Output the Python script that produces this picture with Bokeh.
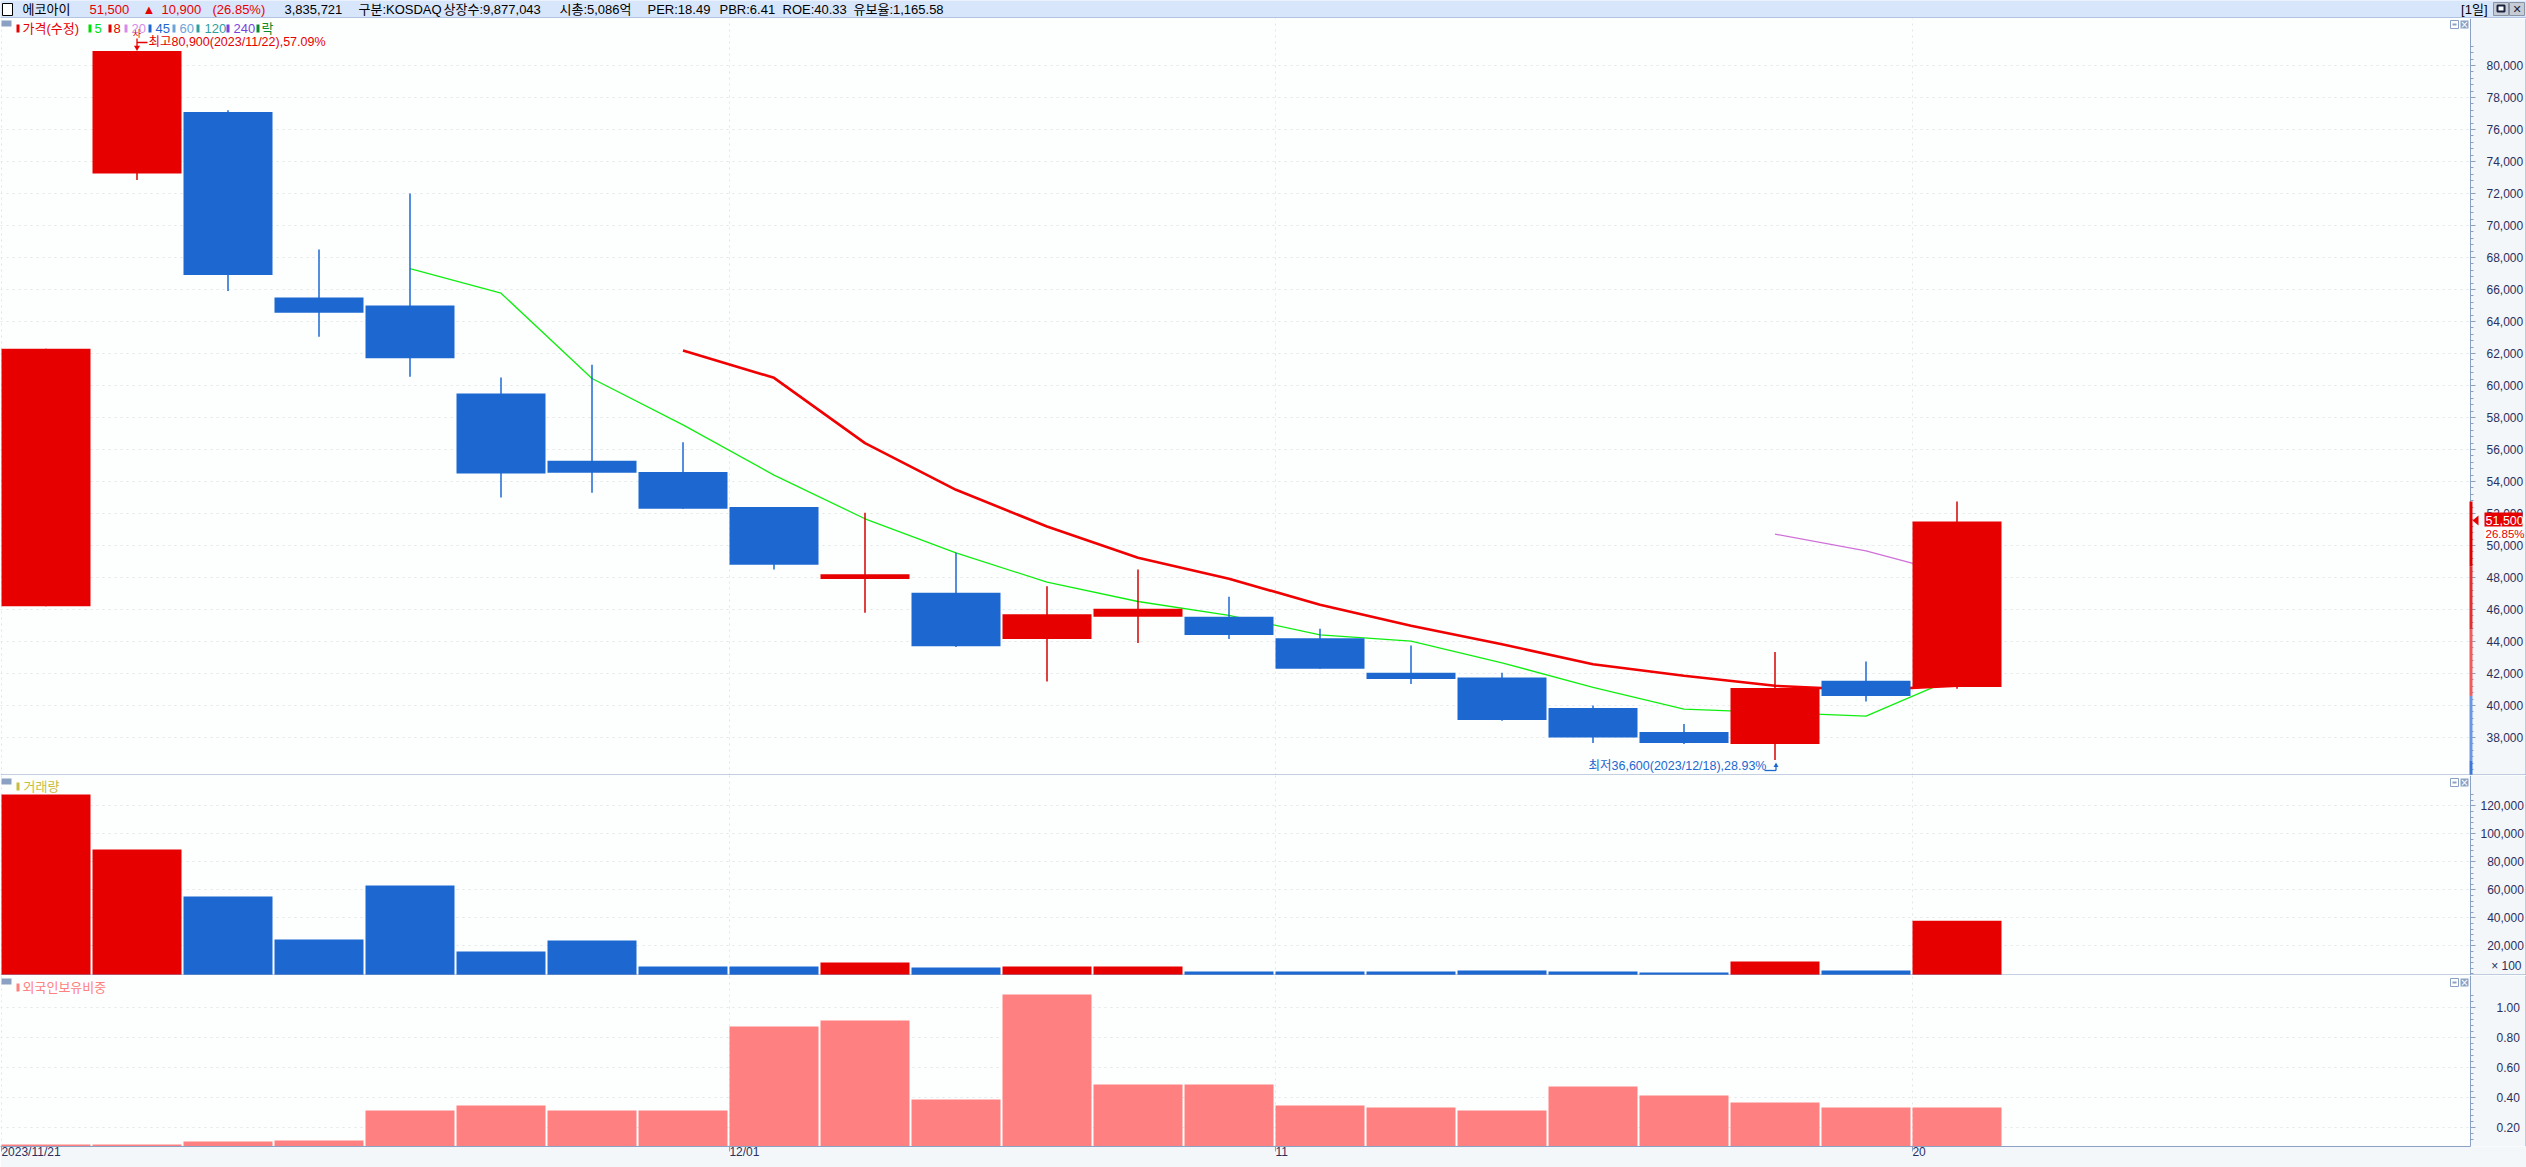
from bokeh.plotting import figure
from bokeh.layouts import column
from bokeh.embed import file_html
from bokeh.resources import INLINE
from bokeh.core.properties import value
from bokeh.models import (Range1d, LinearAxis, FixedTicker, NumeralTickFormatter, Label,
                          BoxAnnotation, PolyAnnotation, ColumnDataSource)

# ---------- data ----------
opens  = [46200, 73250, 77100, 65500, 65000, 59500, 55300, 54600, 52400, 47900, 47050, 44150, 45550,
          45550, 44200, 42050, 41750, 39850, 38350, 37600, 41550, 41150]
highs  = [62300, 80900, 77200, 68500, 72000, 60500, 61300, 56450, 52400, 52050, 49550, 47450, 48500,
          46800, 44800, 43750, 42050, 40000, 38850, 43350, 42750, 52750]
lows   = [46200, 72850, 65900, 63050, 60550, 53000, 53300, 52300, 48500, 45800, 43650, 41500, 43900,
          44150, 42300, 41350, 39050, 37650, 37600, 36600, 40250, 41050]
closes = [62300, 80900, 66900, 64550, 61700, 54500, 54550, 52300, 48800, 48200, 43700, 45700, 46050,
          44400, 42300, 41650, 39100, 38000, 37650, 41100, 40600, 51500]
ma5_x  = list(range(4, 22))
ma5    = [67300, 65770, 60440, 57540, 54400, 51670, 49540, 47710, 46500, 45630, 44420, 44020, 42670,
          41130, 39770, 39560, 39330, 41770]
ma8_x  = list(range(7, 22))
ma8    = [62190, 60480, 56400, 53480, 51190, 49230, 47920, 46300, 44980, 43830, 42580, 41860, 41230,
          40960, 41230]
ma20_x = [19, 20, 21]
ma20   = [50710, 49670, 48150]
volume = [128100, 88800, 55200, 24500, 63100, 15950, 23800, 5240, 5240, 8100, 4520, 5240, 5240, 1670,
          1670, 1670, 2380, 1670, 950, 8810, 2380, 38000]
foreign = [0.087, 0.087, 0.107, 0.113, 0.313, 0.347, 0.313, 0.313, 0.873, 0.913, 0.387, 1.087, 0.487,
           0.487, 0.347, 0.333, 0.313, 0.473, 0.413, 0.367, 0.333, 0.333]
price_ticks = [38000 + 2000 * i for i in range(22)]
vol_ticks = [20000, 40000, 60000, 80000, 100000, 120000]
for_ticks = [0.2, 0.4, 0.6, 0.8, 1.0]
date_ticks = {0: "2023/11/21", 8: "12/01", 14: "11", 21: "20"}
legend_items = ["가격(수정)", "5", "8", "20", "45", "60", "120", "240", "락"]
legend_colors = ["#e60000", "#00e000", "#e60000", "#d78ae6", "#1c68d0", "#6fa3d8", "#2f9e9e", "#7c3fe0", "#0a8a2a"]
header_items = ["에코아이", "51,500", "▲", "10,900", "(26.85%)", "3,835,721", "구분:KOSDAQ", "상장수:9,877,043",
                "시총:5,086억", "PER:18.49", "PBR:6.41", "ROE:40.33", "유보율:1,165.58"]
profile_edges = [52750, 48700, 44750, 40600, 36550, 35625]
profile_colors = ["#e00000", "#e23030", "#ee5c5c", "#6a98e0", "#3d78d8"]

# ---------- style ----------
W, H = 2526, 1167
FW = 2470
AXBG, PANE, LINE, TXT = "#f3f7f9", "#fcfffe", "#8ba1c4", "#2b2f5e"
RED, BLUE, PINK = "#e60000", "#1c68d0", "#ff8080"
GRID = "#e2e6ea"
NARROW = "'Liberation Sans', 'Noto Sans CJK KR'"
x_left, x_right = -45.5 / 91, (W - 45.5) / 91
def X(px): return (px - 45.5) / 91

def pane(top, bottom, ymin, ymax, total_h, ticks, minor, fmt=None, standoff=11, overrides=None):
    p = figure(width=W, height=total_h, frame_width=W, frame_height=bottom - top, frame_align=False,
               output_backend="svg", toolbar_location=None,
               x_range=Range1d(x_left, x_right), y_range=Range1d(ymin, ymax),
               x_axis_location=None, y_axis_location="right",
               min_border_left=0, min_border_right=0, min_border_top=0, min_border_bottom=total_h - (bottom - top),
               background_fill_color=PANE, border_fill_color=AXBG, outline_line_color=None)
    ax = p.yaxis[0]
    ax.fixed_location = X(FW)
    ax.ticker = FixedTicker(ticks=ticks, minor_ticks=minor)
    if fmt: ax.formatter = NumeralTickFormatter(format=fmt)
    if overrides: ax.major_label_overrides = overrides
    ax.axis_line_color = LINE
    ax.major_tick_line_color = LINE; ax.minor_tick_line_color = LINE
    ax.major_tick_out = 5; ax.major_tick_in = 0; ax.minor_tick_out = 3; ax.minor_tick_in = 0
    ax.major_label_standoff = standoff
    ax.major_label_text_font = NARROW; ax.major_label_text_font_size = "12px"; ax.major_label_text_color = TXT
    p.ygrid.ticker = FixedTicker(ticks=ticks)
    p.xgrid.ticker = FixedTicker(ticks=[k - 0.49 for k in date_ticks])
    for g in (p.xgrid, p.ygrid):
        g.grid_line_color = GRID; g.grid_line_dash = "2 4"; g.grid_line_width = 1
    p.add_layout(BoxAnnotation(left=X(FW), right=X(W), fill_color=AXBG, fill_alpha=1, line_alpha=0, level="glyph"))
    p._top = top; p._scale = (ymax - ymin) / (bottom - top); p._ymax = ymax
    return p

def Y(p, py): return p._ymax - (py - p._top) * p._scale

def label(p, text, px, py, color=TXT, size=12, align="left", bg=None, font=NARROW):
    p.add_layout(Label(x=X(px), y=Y(p, py), text=text, text_color=color, text_font=font,
                       text_font_size=f"{size}px", text_align=align, text_baseline="middle",
                       background_fill_color=bg, level="overlay"))

def box(p, x0, x1, y0, y1, color, line=None):
    p.add_layout(BoxAnnotation(left=X(x0), right=X(x1), top=Y(p, y0), bottom=Y(p, y1), fill_color=color,
                               fill_alpha=1, line_color=line, line_alpha=1 if line else 0, line_width=1, level="overlay"))

def pane_buttons(p, py):
    box(p, 1, 11, py, py + 6, LINE)
    box(p, 2450, 2458, py, py + 8, "#ffffff", LINE)
    box(p, 2452, 2456, py + 3, py + 5, LINE)
    box(p, 2460, 2468, py, py + 8, LINE)
    label(p, "×", 2464, py + 4, color="#ffffff", size=10, align="center", font="DejaVu Sans")

idx = list(range(22))
up = [c >= o for o, c in zip(opens, closes)]
colors = [RED if u else BLUE for u in up]
wick_colors = ["#d60000" if u else BLUE for u in up]

# ---------- header ----------
hd = figure(width=W, height=18, frame_width=W, frame_height=18, frame_align=False,
            output_backend="svg", toolbar_location=None,
            x_range=Range1d(0, W), y_range=Range1d(18, 0), x_axis_location=None, y_axis_location=None,
            min_border=0, background_fill_color="#d8e6fb", border_fill_color="#d8e6fb", outline_line_color=None)
hd.grid.visible = False
hx = [22, 89, 142, 161, 212, 284, 358, 443, 559, 647, 719, 782, 853]
hc = ["#000000", "#e60000", "#e60000", "#e60000", "#e60000"] + ["#000000"] * 8
hd.text(x=hx, y=[9] * len(hx), text=header_items, text_color=hc, text_baseline="middle",
        text_font=value(NARROW), text_font_size="13px")
hd.text(x=[2487], y=[9], text=["[1일]"], text_color="#000000", text_baseline="middle", text_align="right",
        text_font=value(NARROW), text_font_size="13px")
hd.quad(left=[2, 2493, 2509], right=[12, 2508, 2524], top=[3, 2, 2], bottom=[15, 15, 15],
        fill_color=["#ffffff", "#c6ccd6", "#c6ccd6"], line_color=["#000000", "#8a93a3", "#8a93a3"])
hd.quad(left=[2497], right=[2504], top=[5], bottom=[11], fill_color="#ffffff", line_color="#1a2240", line_width=2)
hd.text(x=[2516.5], y=[9], text=["✕"], text_color="#1a2240", text_align="center", text_baseline="middle",
        text_font=value("DejaVu Sans"), text_font_size="11px")
hd.segment(x0=[0], x1=[W], y0=[17.5], y1=[17.5], line_color=LINE, line_width=1)

# ---------- price ----------
P_MIN, P_MAX = 35625, 82937.5
p1 = pane(18, 775, P_MIN, P_MAX, 757, price_ticks, [36000 + 400 * i for i in range(114)], fmt="0,0", standoff=11)
p1.line(ma5_x, ma5, line_color="#10ee10", line_width=1.3)
p1.line(ma8_x, ma8, line_color="#f00000", line_width=2.6)
p1.line(ma20_x, ma20, line_color="#d070d8", line_width=1.3)
src = ColumnDataSource(dict(x=idx, low=lows, high=highs,
                            top=[max(o, c) for o, c in zip(opens, closes)],
                            bot=[min(o, c) for o, c in zip(opens, closes)], color=colors, wick=wick_colors))
p1.segment("x", "low", "x", "high", source=src, line_color="wick", line_width=1.5)
p1.vbar(x="x", width=89 / 91, top="top", bottom="bot", source=src, fill_color="color", line_color=None)
pane_buttons(p1, 20)
# legend
lg_bar = [16, 88, 108, 124, 148, 172, 196, 226, 256]
lg_txt = [22, 94, 113, 131, 155, 179, 204, 233, 261]
for t, c, bx, tx in zip(legend_items, legend_colors, lg_bar, lg_txt):
    box(p1, bx, bx + 3, 24, 32, c)
    label(p1, t, tx, 28, color=c, size=13)
# extremes
label(p1, "최고80,900(2023/11/22),57.09%", 148, 41.5, color="#e60000", size=12.5)
label(p1, "사", 136.5, 33, color="#e60000", size=9, align="center")
p1.segment([X(136.5), X(136.5)], [Y(p1, 38), Y(p1, 42)], [X(136.5), X(147)], [Y(p1, 48), Y(p1, 42)], line_color="#e60000", line_width=1.3)
p1.scatter([X(136.5)], [Y(p1, 47)], marker="inverted_triangle", size=6, fill_color="#e60000", line_color=None)
label(p1, "최저36,600(2023/12/18),28.93%", 1588, 765.5, color=BLUE, size=12.5)
p1.segment([X(1764), X(1775.5)], [Y(p1, 770), Y(p1, 770)], [X(1775.5), X(1775.5)], [Y(p1, 770), Y(p1, 765)], line_color=BLUE, line_width=1.3)
p1.scatter([X(1775.5)], [Y(p1, 765)], marker="triangle", size=5, fill_color=BLUE, line_color=None)
# current-price profile strip on the axis
for hi, lo, c in zip(profile_edges[:-1], profile_edges[1:], profile_colors):
    p1.add_layout(BoxAnnotation(left=X(2469), right=X(2472), top=hi, bottom=lo, fill_color=c, fill_alpha=1,
                                line_alpha=0, level="overlay"))
p1.add_layout(PolyAnnotation(xs=[X(2472), X(2478), X(2478)], ys=[Y(p1, 520), Y(p1, 515), Y(p1, 525)],
                             fill_color="#e60000", fill_alpha=1, line_alpha=0, level="overlay"))
box(p1, 2484, 2522, 512, 526, "#e60000")
label(p1, "51,500", 2485, 519.5, color="#ffffff", size=12.5)
box(p1, 2484, 2522, 527, 540, "#ffffff")
label(p1, "26.85%", 2485, 533.5, color="#e60000", size=11.5)
box(p1, 0, W, 774, 775, LINE)
box(p1, W - 1, W, 18, 775, LINE)

# ---------- volume ----------
V_MIN, V_MAX = -1190, 141665
vov = {v: "\u2007" + f"{v:,}" for v in vol_ticks if v < 100000}
p2 = pane(775, 975, V_MIN, V_MAX, 200, vol_ticks, [4000 * i for i in range(33)], fmt="0,0", standoff=5, overrides=vov)
p2.vbar(x=idx, width=89 / 91, top=volume, bottom=V_MIN, fill_color=colors, line_color=None)
pane_buttons(p2, 778)
box(p2, 16, 19, 782, 790, "#c9bb3e")
label(p2, "거래량", 23, 786, color="#c9bb3e", size=13)
label(p2, "× 100", 2521, 965, align="right", size=12)
box(p2, 0, W, 974, 975, LINE)
box(p2, W - 1, W, 775, 975, LINE)

# ---------- foreign ownership ----------
F_MIN, F_MAX = 0.0733, 1.2133
p3 = pane(975, 1146, F_MIN, F_MAX, 192, for_ticks, [0.12 + 0.04 * i for i in range(25)], fmt="0.00", standoff=21)
p3.vbar(x=idx, width=89 / 91, top=foreign, bottom=F_MIN, fill_color=PINK, line_color=None)
bx = LinearAxis(ticker=FixedTicker(ticks=[k - 0.49 for k in date_ticks]),
                major_label_overrides={k - 0.49: v for k, v in date_ticks.items()},
                bounds=(x_left, X(FW)))
bx.axis_line_color = LINE; bx.major_tick_line_color = LINE; bx.minor_tick_line_color = None
bx.major_tick_out = 5; bx.major_tick_in = 0; bx.major_label_standoff = 0
bx.major_label_orientation = -1e-6
bx.major_label_text_font = NARROW; bx.major_label_text_font_size = "12px"; bx.major_label_text_color = TXT
p3.add_layout(bx, "below")
pane_buttons(p3, 978)
box(p3, 16, 19, 983, 991, PINK)
label(p3, "외국인보유비중", 22, 987, color=PINK, size=13)
box(p3, W - 1, W, 975, 1146, LINE)

page = column(hd, p1, p2, p3, spacing=0)
open("out.html", "w").write(file_html(page, INLINE))
